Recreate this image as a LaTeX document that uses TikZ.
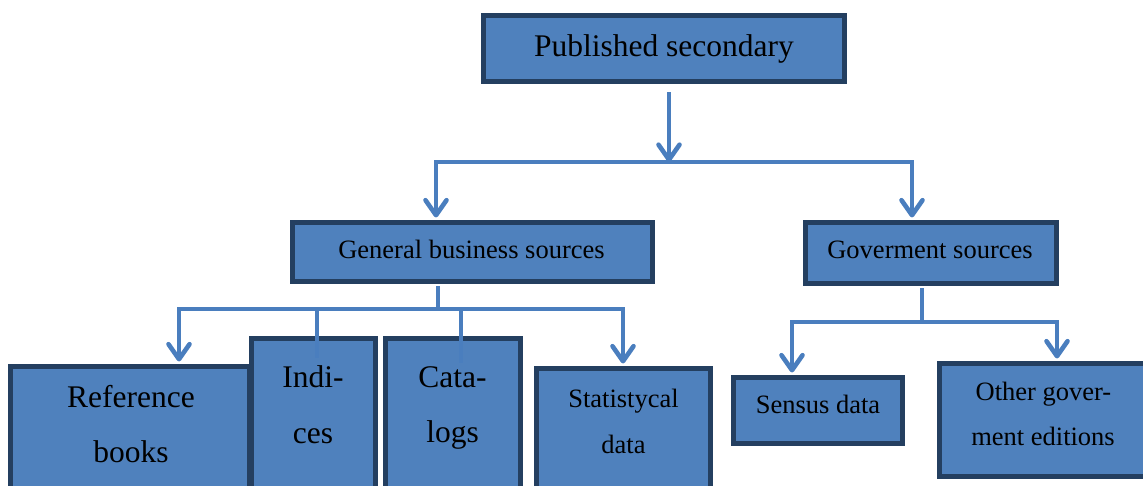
\documentclass[tikz,border=0pt]{standalone}
\usepackage{fontspec}
\setmainfont{Liberation Serif}
\usetikzlibrary{arrows.meta}
\definecolor{boxfill}{HTML}{4F81BD}
\definecolor{boxline}{HTML}{243F60}
\definecolor{conncol}{HTML}{4A7EBE}
\begin{document}
\begin{tikzpicture}[x=1pt,y=-1pt,
  box/.style={draw=boxline,fill=boxfill,line width=5pt,rectangle,inner sep=0pt},
  big/.style={anchor=base,inner sep=0pt,font=\fontsize{31.5}{31.5}\selectfont},
  mid/.style={anchor=base,inner sep=0pt,font=\fontsize{26.5}{26.5}\selectfont},
  conn/.style={draw=conncol,line width=4.6pt},
  arrhead/.tip={Straight Barb[length=15pt,width=21pt,line cap=round,line join=round]},
  arr/.style={conn,-arrhead},
  arrs/.style={conn,arrhead-arrhead,line join=miter}]
\useasboundingbox (0,0) rectangle (1143,486);
\clip (0,0) rectangle (1143,486);
% boxes
\node[box,minimum width=361pt,minimum height=66pt] (top) at (664,48.5) {};
\node[box,minimum width=360pt,minimum height=59pt] (gbs) at (472.5,252) {};
\node[box,minimum width=251pt,minimum height=61pt] (gov) at (931,253) {};
\node[box,minimum width=239pt,minimum height=151pt] (ref) at (130,442) {};
\node[box,minimum width=124pt,minimum height=179pt] (ind) at (313.5,428) {};
\node[box,minimum width=135pt,minimum height=179pt] (cat) at (453,428) {};
\node[box,minimum width=174pt,minimum height=149pt] (stat) at (623.5,443) {};
\node[box,minimum width=169pt,minimum height=66pt] (sen) at (818,410.5) {};
\node[box,minimum width=218pt,minimum height=113pt] (oth) at (1048.5,420) {};
% texts
\node[big] (ttop) at (664,57) {Published secondary};
\node[mid] (tgbs) at (471.5,259) {General business sources};
\node[mid] (tgov) at (930,259) {Goverment sources};
\node[big] (tref1) at (131,407) {Reference};
\node[big] (tref2) at (131,462) {books};
\node[big] (tind1) at (313,387) {Indi-};
\node[big] (tind2) at (313,443) {ces};
\node[big] (tcat1) at (452.5,387) {Cata-};
\node[big] (tcat2) at (452.5,442) {logs};
\node[mid] (tstat1) at (623.5,407) {Statistycal};
\node[mid] (tstat2) at (623.5,453) {data};
\node[mid] (tsen) at (818,413) {Sensus data};
\node[mid] (toth1) at (1043.5,400) {Other gover-};
\node[mid] (toth2) at (1043,445) {ment editions};
% connectors, level 1
\coordinate (bar1) at (669,162);
\coordinate (bar1L) at (436,162);
\coordinate (bar1R) at (912,162);
\draw[arr] ([yshift=-8.5pt]top.south -| bar1) -- (bar1);
\draw[arrs] ([yshift=2.5pt]gbs.north -| bar1L) -- (bar1L) -- (bar1R) -- ([yshift=2.5pt]gov.north -| bar1R);
% connectors, level 2 left
\coordinate (bar2) at (438,309);
\coordinate (bar2L) at (179,309);
\coordinate (bar2R) at (623,309);
\coordinate (indE) at (317,358);
\coordinate (catE) at (461,363);
\draw[conn] ([yshift=-2.5pt]gbs.south -| bar2) -- (bar2);
\draw[arrs] ([yshift=2.5pt]ref.north -| bar2L) -- (bar2L) -- (bar2R) -- ([yshift=2.5pt]stat.north -| bar2R);
\draw[conn] (indE |- bar2) -- (indE);
\draw[conn] (catE |- bar2) -- (catE);
% connectors, level 2 right
\coordinate (bar3) at (922,322);
\coordinate (bar3L) at (792,322);
\coordinate (bar3R) at (1057,322);
\draw[conn] ([yshift=-2.5pt]gov.south -| bar3) -- (bar3);
\draw[arrs] ([yshift=2.5pt]sen.north -| bar3L) -- (bar3L) -- (bar3R) -- ([yshift=2.5pt]oth.north -| bar3R);
\end{tikzpicture}
\end{document}
